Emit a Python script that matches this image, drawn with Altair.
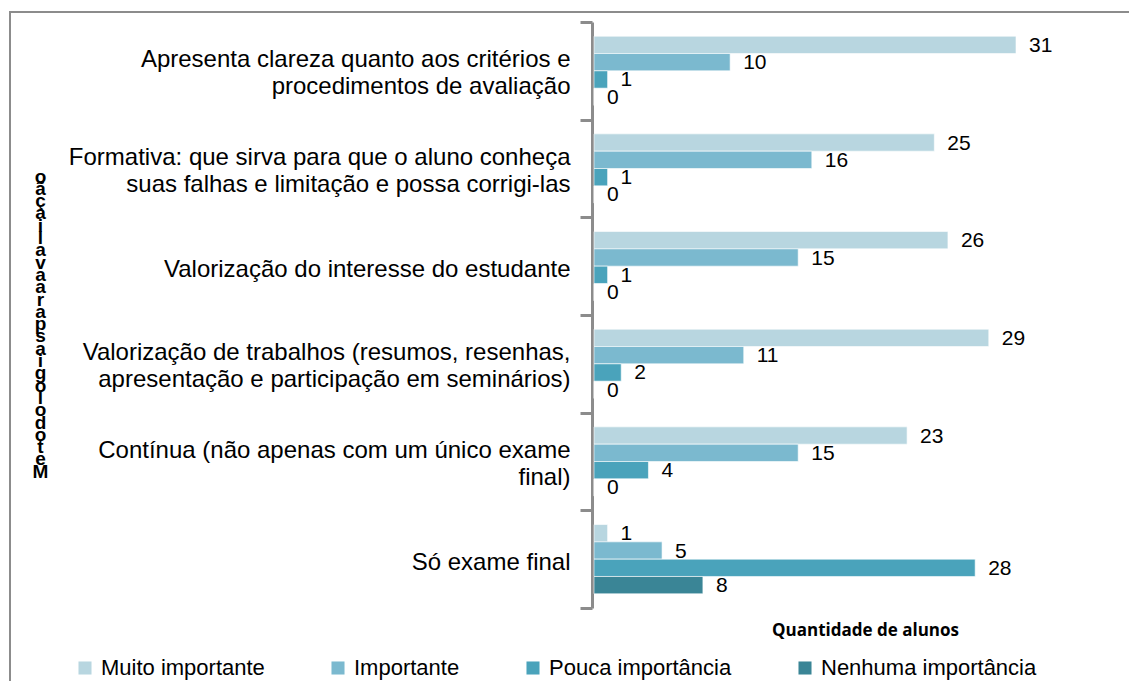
import altair as alt
import pandas as pd

categories = [
    "Apresenta clareza  quanto aos critérios e|procedimentos de avaliação",
    "Formativa: que sirva para que o aluno conheça|suas falhas e limitação e possa corrigi-las",
    "Valorização do interesse do estudante",
    "Valorização de trabalhos (resumos, resenhas,|apresentação e participação em seminários)",
    "Contínua (não apenas com um único exame|final)",
    "Só exame final",
]
series = ["Muito importante", "Importante", "Pouca importância", "Nenhuma  importância"]
muito_importante = [31, 25, 26, 29, 23, 1]
importante = [10, 16, 15, 11, 15, 5]
pouca_importancia = [1, 1, 1, 2, 4, 28]
nenhuma_importancia = [0, 0, 0, 0, 0, 8]
colors = ["#B8D6E0", "#7BB9CF", "#4AA3BB", "#3A8596"]
y_title = "Metodologias para avaliação"

rows = []
for vals, s in zip([muito_importante, importante, pouca_importancia, nenhuma_importancia], series):
    for c, v in zip(categories, vals):
        rows.append({"cat": c, "serie": s, "valor": v})
df = pd.DataFrame(rows)

W, H = 535, 586

y_enc = alt.Y(
    "cat:N",
    sort=categories,
    scale=alt.Scale(paddingInner=0, paddingOuter=0),
    axis=alt.Axis(
        title=list(reversed([ch for ch in y_title if ch != " "])),
        titleAngle=0,
        titleX=-552,
        titleY=145,
        titleAlign="center",
        titleBaseline="top",
        titleLineHeight=12.3,
        titleFontSize=19,
        titleFont="Liberation Sans",
        titleFontWeight="bold",
        titleColor="#000000",
        labelExpr="split(datum.label, '|')",
        labelFont="Liberation Sans",
        labelFontSize=24,
        labelLineHeight=27,
        labelColor="#000000",
        labelLimit=700,
        labelPadding=10,
        labelAlign="right",
        labelOffset={"condition": {"test": "indexof(datum.label, '|') >= 0", "value": -11}, "value": 3},
        tickBand="extent",
        tickSize=12,
        tickWidth=3,
        tickColor="#8C8C8C",
        domainColor="#8C8C8C",
        domainWidth=3,
        offset=2,
        grid=False,
    ),
)
yoff = alt.YOffset("serie:N", sort=series, scale=alt.Scale(paddingInner=0, paddingOuter=0.82))
x_scale = alt.Scale(domain=[0, 39.3], nice=False, zero=True)

bars = alt.Chart(df).mark_bar(stroke="white", strokeWidth=0.6).encode(
    x=alt.X(
        "valor:Q",
        scale=x_scale,
        axis=alt.Axis(
            title="Quantidade de alunos",
            domain=False,
            ticks=False,
            labels=False,
            grid=False,
            titleFont="Open Sans",
            titleFontWeight="bold",
            titleFontSize=17,
            titleColor="#000000",
            titleX=271,
            titleY=27,
            titleAlign="center",
            titleBaseline="alphabetic",
        ),
    ),
    y=y_enc,
    yOffset=yoff,
    color=alt.Color(
        "serie:N",
        sort=series,
        scale=alt.Scale(domain=series, range=colors),
        legend=alt.Legend(
            title=None,
            orient="none",
            legendX=-520,
            legendY=635,
            direction="horizontal",
            columns=4,
            symbolType="square",
            symbolSize=170,
            symbolStrokeWidth=0,
            labelFont="Liberation Sans",
            labelFontSize=22,
            labelColor="#000000",
            labelOffset=5,
            columnPadding=62,
            padding=0,
            labelLimit=400,
        ),
    ),
)

labels = alt.Chart(df).mark_text(
    align="left", baseline="middle", dx=13, dy=1, fontSize=21, font="Liberation Sans", color="#000000"
).encode(
    x=alt.X("valor:Q", scale=x_scale),
    y=alt.Y("cat:N", sort=categories),
    yOffset=yoff,
    text="valor:Q",
)

frame = alt.Chart(pd.DataFrame({"a": [0]})).mark_rect(
    fillOpacity=0, stroke="#8C8C8C", strokeWidth=2
).encode(
    x=alt.value(-584), x2=alt.value(W + 60), y=alt.value(-10), y2=alt.value(H + 150)
)

chart = alt.layer(frame, bars, labels).properties(
    width=W,
    height=H,
    padding={"left": 594, "top": 22, "right": 0, "bottom": 73},
    autosize=alt.AutoSizeParams(type="none"),
    background="white",
).configure_view(strokeWidth=0)

chart.save("out.html", embed_options={"renderer": "svg", "actions": False})
